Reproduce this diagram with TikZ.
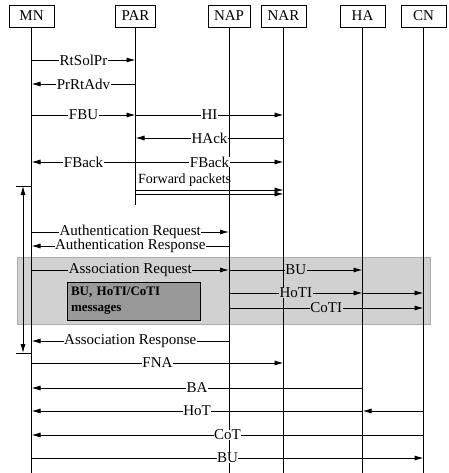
\documentclass[tikz,border=0pt]{standalone}
\usepackage{fontspec}
\setmainfont{Liberation Serif}
\usetikzlibrary{arrows.meta}
\definecolor{shadebg}{gray}{0.82}
\definecolor{shadebox}{gray}{0.60}
\newcommand{\seqmsg}[5][lbl]{\draw[msg] (#2 |- 0,#4) -- node[#1]{#5} (#3 |- 0,#4);}
\begin{document}
\begin{tikzpicture}[x=1pt,y=-1pt,
  hdr/.style={draw, line width=0.7pt, minimum width=45pt, minimum height=22pt, inner sep=0pt, font=\fontsize{15}{17}\selectfont},
  life/.style={line width=0.8pt},
  msg/.style={line width=0.8pt, -{Latex[length=9pt,width=5pt]}},
  lbl/.style={fill=white, inner xsep=0.5pt, inner ysep=0pt, font=\fontsize{15}{17}\selectfont},
  lblg/.style={lbl, fill=shadebg},
  tick/.style={line width=0.8pt},
  band/.style={fill=shadebg, draw=gray!65, line width=1pt},
  mbox/.style={fill=shadebox, draw=black, line width=0.9pt, text width=125pt, align=left, inner xsep=4pt, minimum height=38pt, font=\bfseries\fontsize{13}{16}\selectfont}
]
\useasboundingbox (0,0) rectangle (448,473);
% shaded band
\filldraw[band] (17,257) rectangle (430,324);
% headers
\node[hdr] (MN) at (31.5,16) {MN};
\node[hdr, minimum width=40pt] (PAR) at (135.5,16) {PAR};
\node[hdr, minimum width=42pt] (NAP) at (229,16) {NAP};
\node[hdr] (NAR) at (283.5,16) {NAR};
\node[hdr] (HA) at (362.5,16) {HA};
\node[hdr] (CN) at (423.5,16) {CN};
% lifelines
\draw[life] (MN.south) -- (MN.south |- 0,473);
\draw[life] (PAR.south) -- (PAR.south |- 0,205);
\draw[life] (NAP.south) -- (NAP.south |- 0,473);
\draw[life] (NAR.south) -- (NAR.south |- 0,473);
\draw[life] (HA.south) -- (HA.south |- 0,473);
\draw[life] (CN.south) -- (CN.south |- 0,473);
% inner box
\node[mbox] (msgs) at (133.5,301) {BU, HoTI/CoTI\\messages};
% messages
\seqmsg{MN}{PAR}{60}{RtSolPr}
\seqmsg{PAR}{MN}{84}{PrRtAdv}
\seqmsg{MN}{PAR}{115}{FBU}
\seqmsg{PAR}{NAR}{115}{HI}
\seqmsg{NAR}{PAR}{138}{HAck}
\seqmsg{PAR}{MN}{162}{FBack}
\seqmsg{PAR}{NAR}{162}{FBack}
\node[anchor=west, inner sep=0pt, font=\fontsize{14}{16}\selectfont] (fwd) at (138,180) {Forward packets};
\draw[msg, line width=0.6pt] (PAR.south |- 0,190) -- (NAR.south |- 0,190);
\draw[msg, line width=0.6pt] (PAR.south |- 0,194) -- (NAR.south |- 0,194);
% bracket
\coordinate (btop) at (23,186);
\coordinate (bbot) at (23,353);
\coordinate (btl) at (16,186);
\coordinate (bbl) at (16,353);
\draw[tick] (btl) -- (MN |- btl);
\draw[tick] (bbl) -- (MN |- bbl);
\draw[line width=0.8pt, {Latex[length=9pt,width=5pt]}-{Latex[length=9pt,width=5pt]}] (btop) -- (bbot);
\seqmsg{MN}{NAP}{232}{Authentication Request}
\seqmsg{NAP}{MN}{246}{Authentication Response}
\seqmsg[lblg]{MN}{NAP}{270}{Association Request}
\seqmsg[lblg]{NAP}{HA}{270}{BU}
\seqmsg[lblg]{NAP}{HA}{293}{HoTI}
\draw[msg] (HA |- 0,293) -- (CN |- 0,293);
\seqmsg[lblg]{NAP}{CN}{308}{CoTI}
\seqmsg{NAP}{MN}{341}{Association Response}
\seqmsg{MN}{NAR}{363}{FNA}
\seqmsg{HA}{MN}{388}{BA}
\draw[msg] (CN |- 0,411) -- (HA |- 0,411);
\seqmsg{HA}{MN}{411}{HoT}
\seqmsg{CN}{MN}{435}{CoT}
\seqmsg{MN}{CN}{458}{BU}
\end{tikzpicture}
\end{document}
